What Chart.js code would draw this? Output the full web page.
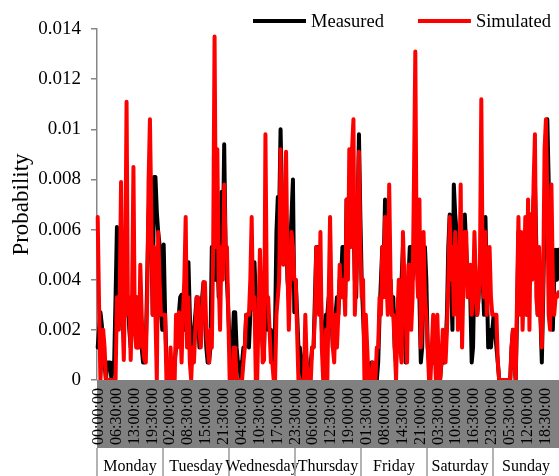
<!DOCTYPE html>
<html>
<head>
<meta charset="utf-8">
<title>Probability</title>
<script src="https://cdn.jsdelivr.net/npm/chart.js@4.4.1/dist/chart.umd.min.js"></script>
<style>
  html, body { margin: 0; padding: 0; background: #fff; }
  canvas { display: block; }
</style>
</head>
<body>
<canvas id="probChart" width="559" height="476"></canvas>
<script>
// days of the week, 48 half-hour slots each
const days = ['Monday', 'Tuesday', 'Wednesday', 'Thursday', 'Friday', 'Saturday', 'Sunday'];
const slotsPerDay = 48;
const labelEvery = 13; // one time label every 6.5 h
const yTickLabels = ['0', '0.002', '0.004', '0.006', '0.008', '0.01', '0.012', '0.014'];

// measured probability, one row per day
const measured = [
  0.0013,0.0020,0.0027,0.0022,0.0015,0.0007,0.0000,0.0007,0.0007,0.0007,0.0000,0.0007,0.0007,0.0033,0.0061,0.0040,0.0026,0.0033,0.0020,0.0033,0.0046,0.0026,0.0033,0.0020,0.0013,0.0033,0.0026,0.0020,0.0033,0.0013,0.0020,0.0033,0.0013,0.0007,0.0007,0.0013,0.0040,0.0066,0.0079,0.0059,0.0026,0.0081,0.0081,0.0067,0.0059,0.0054,0.0027,0.0020,
  0.0054,0.0027,0.0007,0.0007,0.0007,0.0000,0.0000,0.0007,0.0007,0.0013,0.0020,0.0026,0.0033,0.0034,0.0026,0.0020,0.0026,0.0047,0.0047,0.0026,0.0007,0.0013,0.0020,0.0026,0.0033,0.0026,0.0013,0.0020,0.0033,0.0039,0.0026,0.0013,0.0007,0.0007,0.0013,0.0053,0.0040,0.0053,0.0040,0.0053,0.0033,0.0040,0.0075,0.0053,0.0094,0.0053,0.0040,0.0027,
  0.0013,0.0007,0.0013,0.0027,0.0027,0.0013,0.0007,0.0007,0.0000,0.0007,0.0013,0.0013,0.0026,0.0026,0.0013,0.0026,0.0040,0.0047,0.0047,0.0033,0.0020,0.0026,0.0033,0.0026,0.0013,0.0013,0.0033,0.0033,0.0020,0.0020,0.0020,0.0013,0.0007,0.0020,0.0059,0.0073,0.0066,0.0100,0.0073,0.0059,0.0053,0.0066,0.0040,0.0033,0.0053,0.0066,0.0080,0.0027,
  0.0040,0.0027,0.0013,0.0013,0.0007,0.0000,0.0007,0.0013,0.0007,0.0000,0.0000,0.0007,0.0013,0.0013,0.0033,0.0053,0.0053,0.0033,0.0040,0.0020,0.0013,0.0013,0.0026,0.0026,0.0033,0.0033,0.0026,0.0013,0.0013,0.0026,0.0033,0.0026,0.0040,0.0040,0.0053,0.0053,0.0033,0.0072,0.0066,0.0072,0.0066,0.0079,0.0066,0.0040,0.0033,0.0066,0.0098,0.0066,
  0.0040,0.0026,0.0013,0.0007,0.0007,0.0000,0.0000,0.0007,0.0007,0.0000,0.0000,0.0000,0.0007,0.0026,0.0040,0.0053,0.0046,0.0072,0.0040,0.0033,0.0040,0.0040,0.0026,0.0033,0.0013,0.0007,0.0026,0.0033,0.0026,0.0040,0.0053,0.0026,0.0007,0.0026,0.0040,0.0053,0.0053,0.0040,0.0053,0.0066,0.0053,0.0040,0.0033,0.0007,0.0013,0.0040,0.0053,0.0040,
  0.0013,0.0007,0.0013,0.0007,0.0013,0.0007,0.0013,0.0007,0.0013,0.0000,0.0007,0.0013,0.0007,0.0013,0.0026,0.0053,0.0066,0.0040,0.0020,0.0078,0.0066,0.0059,0.0040,0.0046,0.0053,0.0040,0.0040,0.0066,0.0053,0.0040,0.0040,0.0033,0.0007,0.0013,0.0046,0.0033,0.0026,0.0033,0.0046,0.0053,0.0040,0.0026,0.0065,0.0040,0.0013,0.0020,0.0013,0.0020,
  0.0026,0.0020,0.0013,0.0007,0.0000,0.0000,0.0000,0.0000,0.0000,0.0000,0.0000,0.0000,0.0000,0.0013,0.0020,0.0007,0.0000,0.0026,0.0059,0.0040,0.0053,0.0033,0.0040,0.0053,0.0026,0.0033,0.0053,0.0066,0.0053,0.0072,0.0079,0.0053,0.0026,0.0040,0.0026,0.0007,0.0033,0.0066,0.0098,0.0104,0.0079,0.0053,0.0033,0.0020,0.0040,0.0052,0.0040,0.0052
];

// simulated probability, one row per day
const simulated = [
  0.0065,0.0030,0.0000,0.0010,0.0020,0.0013,0.0000,0.0000,0.0000,0.0000,0.0000,0.0000,0.0000,0.0000,0.0033,0.0020,0.0033,0.0079,0.0026,0.0008,0.0040,0.0111,0.0026,0.0033,0.0008,0.0033,0.0085,0.0020,0.0013,0.0033,0.0013,0.0046,0.0026,0.0013,0.0008,0.0007,0.0033,0.0079,0.0104,0.0066,0.0026,0.0053,0.0026,0.0000,0.0059,0.0040,0.0026,0.0026,
  0.0026,0.0026,0.0000,0.0000,0.0000,0.0013,0.0000,0.0000,0.0000,0.0026,0.0013,0.0027,0.0026,0.0007,0.0026,0.0040,0.0065,0.0013,0.0033,0.0007,0.0000,0.0013,0.0007,0.0020,0.0033,0.0033,0.0020,0.0013,0.0026,0.0039,0.0039,0.0020,0.0013,0.0007,0.0020,0.0013,0.0053,0.0137,0.0053,0.0092,0.0040,0.0020,0.0053,0.0040,0.0078,0.0053,0.0053,0.0026,
  0.0000,0.0000,0.0000,0.0013,0.0013,0.0000,0.0000,0.0000,0.0000,0.0000,0.0007,0.0013,0.0026,0.0026,0.0026,0.0040,0.0065,0.0028,0.0033,0.0000,0.0000,0.0026,0.0052,0.0033,0.0007,0.0008,0.0098,0.0033,0.0033,0.0020,0.0007,0.0007,0.0000,0.0000,0.0026,0.0033,0.0040,0.0092,0.0053,0.0046,0.0066,0.0091,0.0046,0.0020,0.0040,0.0059,0.0053,0.0040,
  0.0040,0.0020,0.0000,0.0000,0.0000,0.0000,0.0000,0.0026,0.0007,0.0000,0.0000,0.0000,0.0013,0.0013,0.0026,0.0053,0.0040,0.0026,0.0059,0.0013,0.0000,0.0000,0.0020,0.0000,0.0033,0.0065,0.0033,0.0013,0.0007,0.0026,0.0013,0.0026,0.0046,0.0033,0.0033,0.0040,0.0026,0.0072,0.0040,0.0092,0.0053,0.0092,0.0104,0.0026,0.0040,0.0066,0.0091,0.0053,
  0.0033,0.0040,0.0000,0.0026,0.0013,0.0000,0.0000,0.0000,0.0007,0.0000,0.0000,0.0013,0.0013,0.0033,0.0026,0.0053,0.0033,0.0065,0.0040,0.0026,0.0078,0.0040,0.0026,0.0026,0.0013,0.0000,0.0026,0.0040,0.0013,0.0007,0.0059,0.0040,0.0026,0.0007,0.0046,0.0046,0.0020,0.0033,0.0079,0.0131,0.0046,0.0033,0.0072,0.0013,0.0026,0.0059,0.0033,0.0026,
  0.0013,0.0000,0.0000,0.0013,0.0026,0.0013,0.0000,0.0026,0.0007,0.0000,0.0007,0.0020,0.0013,0.0007,0.0020,0.0040,0.0065,0.0040,0.0053,0.0026,0.0059,0.0046,0.0020,0.0040,0.0078,0.0013,0.0040,0.0059,0.0059,0.0033,0.0040,0.0046,0.0026,0.0033,0.0059,0.0040,0.0026,0.0033,0.0046,0.0112,0.0040,0.0033,0.0059,0.0026,0.0040,0.0053,0.0033,0.0026,
  0.0026,0.0026,0.0026,0.0007,0.0000,0.0000,0.0000,0.0000,0.0000,0.0000,0.0000,0.0000,0.0000,0.0013,0.0020,0.0007,0.0000,0.0033,0.0065,0.0026,0.0059,0.0020,0.0040,0.0065,0.0026,0.0072,0.0020,0.0066,0.0040,0.0078,0.0098,0.0033,0.0026,0.0053,0.0026,0.0013,0.0040,0.0092,0.0104,0.0072,0.0026,0.0020,0.0078,0.0040,0.0026,0.0033,0.0033,0.0035
];

// half-hour time stamps, repeated for every day
const times = [];
for (let h = 0; h < 24; h++) {
  for (const m of ['00', '30']) times.push(String(h).padStart(2, '0') + ':' + m + ':00');
}
const categories = days.flatMap(() => times);

const serif = "'Liberation Serif', 'Times New Roman', serif";

// grey band under the plot with the time labels, then the day row below it
const dayAxis = {
  id: 'dayAxis',
  beforeDraw(chart) {
    const { ctx, chartArea: a } = chart;
    ctx.save();
    ctx.fillStyle = '#808080';
    ctx.fillRect(a.left, a.bottom, a.right - a.left, 68);
    ctx.restore();
  },
  afterDraw(chart) {
    const { ctx, chartArea: a } = chart;
    const xs = chart.scales.x;
    const step = xs.getPixelForValue(1) - xs.getPixelForValue(0);
    ctx.save();

    // time labels, read bottom to top
    ctx.font = '16px ' + serif;
    ctx.fillStyle = '#000';
    ctx.textAlign = 'right';
    ctx.textBaseline = 'middle';
    categories.forEach((c, i) => {
      if (i % labelEvery) return;
      ctx.save();
      ctx.translate(xs.getPixelForValue(i) + 1, a.bottom + 8);
      ctx.rotate(-Math.PI / 2);
      ctx.fillText(c, 0, 0);
      ctx.restore();
    });

    // day separators and names
    const rowTop = a.bottom + 68;
    ctx.strokeStyle = '#9a9a9a';
    ctx.lineWidth = 1.5;
    ctx.textAlign = 'center';
    ctx.textBaseline = 'alphabetic';
    days.forEach((d, k) => {
      const x0 = xs.getPixelForValue(k * slotsPerDay) - step / 2;
      const x1 = xs.getPixelForValue((k + 1) * slotsPerDay - 1) + step / 2;
      ctx.beginPath();
      ctx.moveTo(x0, rowTop);
      ctx.lineTo(x0, chart.height);
      ctx.stroke();
      ctx.fillText(d, (x0 + x1) / 2, rowTop + 23);
    });
    ctx.restore();
  }
};

// legend with line samples in the top right corner
const lineLegend = {
  id: 'lineLegend',
  afterDraw(chart) {
    const ctx = chart.ctx;
    ctx.save();
    ctx.font = '18.5px ' + serif;
    ctx.textBaseline = 'middle';
    ctx.textAlign = 'left';
    let x = 253;
    const y = 21;
    chart.data.datasets.forEach(ds => {
      ctx.strokeStyle = ds.borderColor;
      ctx.lineWidth = 4;
      ctx.beginPath();
      ctx.moveTo(x, y);
      ctx.lineTo(x + 53, y);
      ctx.stroke();
      x += 58;
      ctx.fillStyle = '#000';
      ctx.fillText(ds.label, x, y + 1);
      x += ctx.measureText(ds.label).width + 34;
    });
    ctx.restore();
  }
};

const ctx = document.getElementById('probChart').getContext('2d');
const chart = new Chart(ctx, {
  type: 'line',
  data: {
    labels: categories,
    datasets: [{
      label: 'Measured',
      data: measured,
      borderColor: '#000000',
      backgroundColor: '#000000',
      borderWidth: 4,
      pointRadius: 0,
      borderJoinStyle: 'round',
      borderCapStyle: 'round',
      order: 2
    }, {
      label: 'Simulated',
      data: simulated,
      borderColor: '#ff0000',
      backgroundColor: '#ff0000',
      borderWidth: 4,
      pointRadius: 0,
      borderJoinStyle: 'round',
      borderCapStyle: 'round',
      order: 1
    }]
  },
  options: {
    responsive: false,
    animation: false,
    devicePixelRatio: 1,
    layout: { padding: { top: 29, right: 0, bottom: 0, left: 0 } },
    plugins: {
      legend: { display: false },
      tooltip: { enabled: false }
    },
    scales: {
      x: {
        type: 'category',
        offset: true,
        grid: { display: false },
        border: { display: false },
        ticks: { display: false },
        afterFit: function (scale) {
          scale.height = 96;
          scale.paddingLeft = 0;
          scale.paddingRight = 0;
        }
      },
      y: {
        min: 0,
        max: 0.014,
        border: { color: '#868686', width: 1.5 },
        grid: { drawOnChartArea: false, tickLength: 6, color: '#868686', lineWidth: 1.5 },
        ticks: {
          stepSize: 0.002,
          padding: 10,
          color: '#000',
          font: { family: serif, size: 19 },
          callback: function (v, i) { return yTickLabels[i]; }
        },
        title: {
          display: true,
          text: 'Probability',
          color: '#000',
          font: { family: serif, size: 23 },
          padding: { top: 8, bottom: 0 }
        },
        afterFit: function (scale) {
          scale.width = 97;
          scale.paddingTop = 0;
          scale.paddingBottom = 0;
        }
      }
    }
  },
  plugins: [dayAxis, lineLegend]
});
</script>
</body>
</html>
